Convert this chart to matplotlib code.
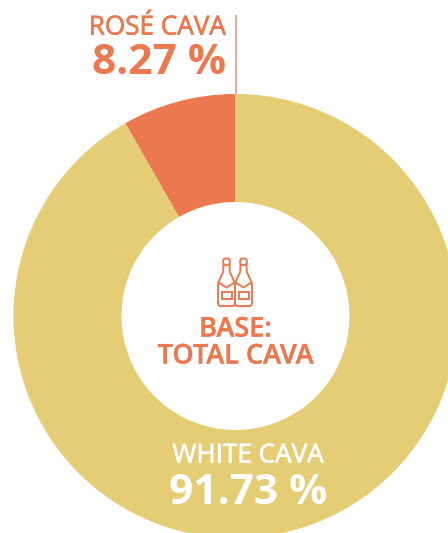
import matplotlib
matplotlib.use("Agg")
import matplotlib.pyplot as plt
import matplotlib.patheffects as pe
from matplotlib.patches import FancyBboxPatch, Rectangle

categories = ["ROSÉ CAVA", "WHITE CAVA"]
shares = [8.27, 91.73]
colors = ["#EC7850", "#E5CD76"]
accent = "#EC7850"

plt.rcParams["font.family"] = ["Open Sans", "DejaVu Sans"]

W, H = 448, 533
fig = plt.figure(figsize=(W / 100, H / 100), dpi=100)
ax = fig.add_axes([0, 0, 1, 1])

cx, cy, R, r = 235.5, 316, 222, 114

# The y axis is inverted afterwards, so 270 degrees ends up at the top of the ring
ax.pie(shares, colors=colors, center=(cx, cy), radius=R, startangle=270,
       counterclock=False, frame=False,
       wedgeprops=dict(width=R - r, linewidth=0))
ax.set_xlim(0, W)
ax.set_ylim(H, 0)
ax.set_aspect("auto")
ax.set_axis_off()

# Leader line above the rosé slice
ax.plot([cx, cx], [15, cy - R], color="#F0977A", lw=1.2, solid_capstyle="butt")


def bottle(x0):
    """Outline of one bottle whose body starts at x0 and is 17 px wide."""
    lw = 1.4
    xs = [x0 + 5.5, x0 + 5.2, x0 + 1.0, x0, x0, x0 + 1.5, x0 + 15.5, x0 + 17, x0 + 17,
          x0 + 16, x0 + 11.8, x0 + 11.5]
    ys = [265, 272, 281, 285, 304, 306, 306, 304, 285, 281, 272, 265]
    ax.plot(xs, ys, color=accent, lw=lw, solid_joinstyle="round")
    ax.add_patch(FancyBboxPatch((x0 + 5.2, 258.5), 6.6, 6.5,
                                boxstyle="round,pad=0,rounding_size=2.2",
                                fc="none", ec=accent, lw=lw))
    ax.plot([x0 + 0.4, x0 + 8.5, x0 + 16.6], [282.5, 287.5, 282.5], color=accent, lw=lw)
    ax.add_patch(Rectangle((x0 + 3.5, 292), 10, 7, fc="none", ec=accent, lw=lw))


bottle(218)
bottle(235)


def thicken(color, amount=0.5):
    """Slightly heavier strokes for the lighter-weight labels."""
    return [pe.withStroke(linewidth=amount, foreground=color)]


# Centre caption
ax.text(235.5, 343, "BASE:\nTOTAL CAVA", color=accent, fontsize=19.5, fontweight="semibold",
        ha="center", va="center", linespacing=0.95, path_effects=thicken(accent, 0.3))

# Slice labels
ax.text(226, 28, categories[0], color=accent, fontsize=18.8, ha="right", va="center",
        path_effects=thicken(accent))
ax.text(226, 63, f"{shares[0]:.2f} %", color=accent, fontsize=30.6, fontweight="bold", ha="right", va="center")
ax.text(248, 456, categories[1], color="white", fontsize=18.8, ha="center", va="center",
        path_effects=thicken("white"))
ax.text(248, 493, f"{shares[1]:.2f} %", color="white", fontsize=30.6, fontweight="bold", ha="center", va="center")

fig.savefig("out.png", dpi=100)
